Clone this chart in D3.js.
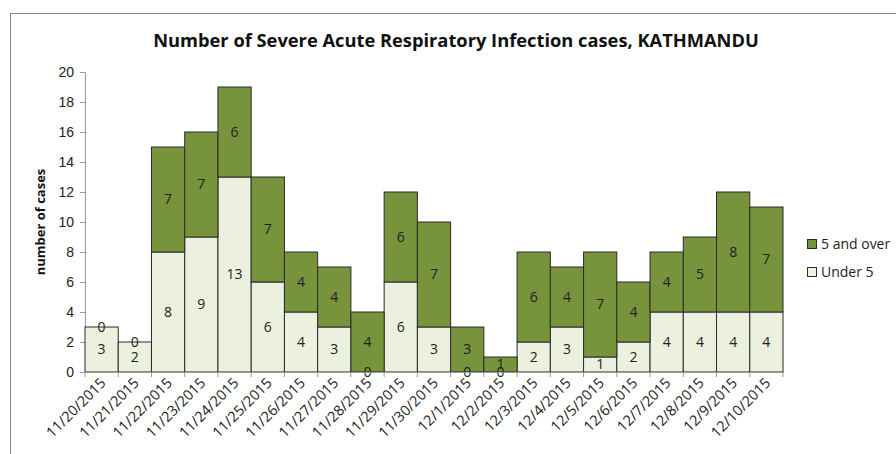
<!DOCTYPE html>
<html>
<head>
<meta charset="utf-8">
<script src="https://cdn.jsdelivr.net/npm/d3@7"></script>
<style>
  body { margin: 0; background: #fff; }
  svg { display: block; font-family: "Open Sans", "Noto Sans", sans-serif; }
</style>
</head>
<body>
<svg width="896" height="454"></svg>
<script>
const dates = ["11/20/2015", "11/21/2015", "11/22/2015", "11/23/2015", "11/24/2015", "11/25/2015",
    "11/26/2015", "11/27/2015", "11/28/2015", "11/29/2015", "11/30/2015", "12/1/2015", "12/2/2015",
    "12/3/2015", "12/4/2015", "12/5/2015", "12/6/2015", "12/7/2015", "12/8/2015", "12/9/2015", "12/10/2015"];
const under5 = [3, 2, 8, 9, 13, 6, 4, 3, 0, 6, 3, 0, 0, 2, 3, 1, 2, 4, 4, 4, 4];
const over5 = [0, 0, 7, 7, 6, 7, 4, 4, 4, 6, 7, 3, 1, 6, 4, 7, 4, 4, 5, 8, 7];
const seriesNames = ["Under 5", "5 and over"];
const yTicks = [0, 2, 4, 6, 8, 10, 12, 14, 16, 18, 20];

const colors = {"Under 5": "#ebf1de", "5 and over": "#77933c"};

const svg = d3.select("svg");

// chart frame
svg.append("rect")
    .attr("x", 10.5).attr("y", 13.5)
    .attr("width", 900).attr("height", 460)
    .attr("fill", "none").attr("stroke", "#888");

const margin = {top: 72, left: 85};
const width = 698, height = 300;

const g = svg.append("g").attr("transform", "translate(" + margin.left + "," + margin.top + ")");

const x = d3.scaleBand().domain(dates).range([0, width]).padding(0);
const y = d3.scaleLinear().domain([0, 20]).range([height, 0]);

const rows = dates.map((d, i) => ({date: d, "Under 5": under5[i], "5 and over": over5[i]}));
const stacked = d3.stack().keys(seriesNames)(rows);

// y axis
const yAxis = g.append("g").call(d3.axisLeft(y).tickValues(yTicks).tickSize(5).tickPadding(6));
yAxis.select(".domain").attr("stroke", "#999");
yAxis.selectAll(".tick line").attr("stroke", "#999");
yAxis.selectAll("text").attr("font-size", 14).attr("fill", "#222");

// bars
g.selectAll(".series")
    .data(stacked)
    .enter().append("g")
    .attr("class", "series")
    .attr("fill", d => colors[d.key])
    .selectAll("rect")
    .data(d => d)
    .enter().append("rect")
    .attr("x", d => x(d.data.date))
    .attr("width", x.bandwidth())
    .attr("y", d => y(d[1]))
    .attr("height", d => y(d[0]) - y(d[1]))
    .attr("stroke", "#2b2b2b")
    .attr("stroke-width", 1);

// value labels
stacked.forEach(s => {
    g.selectAll(".lbl-" + s.index)
        .data(s)
        .enter().append("text")
        .attr("x", d => x(d.data.date) + x.bandwidth() / 2)
        .attr("y", d => (y(d[0]) + y(d[1])) / 2)
        .attr("dy", "0.35em")
        .attr("text-anchor", "middle")
        .attr("font-size", 14)
        .attr("fill", "#222")
        .text(d => d[1] - d[0]);
});

// x axis
const xAxis = g.append("g")
    .attr("transform", "translate(0," + height + ")")
    .call(d3.axisBottom(x).tickSize(0).tickFormat(""));
xAxis.select(".domain").attr("stroke", "#999");
xAxis.selectAll(".tick").remove();
g.selectAll(".xtick")
    .data(d3.range(dates.length + 1))
    .enter().append("line")
    .attr("x1", i => i * x.step()).attr("x2", i => i * x.step())
    .attr("y1", height).attr("y2", height + 5)
    .attr("stroke", "#999");
g.selectAll(".xlabel")
    .data(dates)
    .enter().append("text")
    .attr("transform", d => "translate(" + (x(d) + x.bandwidth() / 2 + 5) + "," + (height + 12) + ") rotate(-45)")
    .attr("text-anchor", "end")
    .attr("font-size", 14.5)
    .attr("fill", "#222")
    .text(d => d);

// axis title
svg.append("text")
    .attr("transform", "translate(45," + (margin.top + height / 2) + ") rotate(-90)")
    .attr("text-anchor", "middle")
    .attr("font-size", 13)
    .attr("font-weight", "bold")
    .attr("fill", "#111")
    .text("number of cases");

// title
svg.append("text")
    .attr("x", 456).attr("y", 47)
    .attr("text-anchor", "middle")
    .attr("font-size", 18.3)
    .attr("font-weight", "bold")
    .attr("fill", "#111")
    .text("Number of Severe Acute Respiratory Infection cases, KATHMANDU");

// legend
const legend = svg.append("g").attr("transform", "translate(807,239)");
["5 and over", "Under 5"].forEach((k, i) => {
    const row = legend.append("g").attr("transform", "translate(0," + i * 28 + ")");
    row.append("rect").attr("x", 0.5).attr("y", 0.5).attr("width", 9).attr("height", 9)
        .attr("fill", colors[k]).attr("stroke", "#2b2b2b");
    row.append("text").attr("x", 14).attr("y", 5).attr("dy", "0.35em")
        .attr("font-size", 14).attr("fill", "#222").text(k);
});
</script>
</body>
</html>
